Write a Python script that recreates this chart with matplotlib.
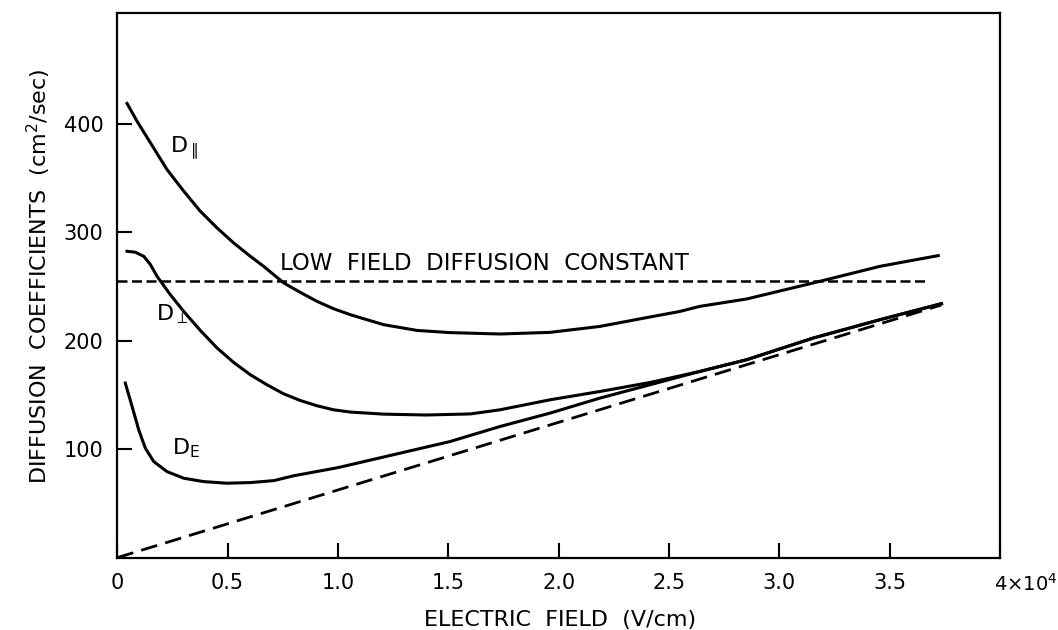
import numpy as np
import matplotlib
matplotlib.use('Agg')
import matplotlib.pyplot as plt
import matplotlib.transforms as mtransforms

# curves (field in units of 1e4 V/cm)
par_x = [0.044, 0.089, 0.15, 0.225, 0.301, 0.376, 0.452, 0.527, 0.603, 0.663,
         0.754, 0.829, 0.905, 0.98, 1.056, 1.131, 1.207, 1.358, 1.507, 1.734,
         1.96, 2.187, 2.414, 2.549, 2.64, 2.852, 3.154, 3.456, 3.72]
par_y = [418.8, 402.5, 382.5, 357.9, 337.9, 319.4, 304.0, 290.2, 277.8, 268.6,
         253.3, 244.6, 236.3, 229.5, 224.0, 219.4, 214.8, 209.5, 207.5, 206.2,
         207.7, 213.2, 221.9, 227.0, 231.7, 238.5, 253.3, 268.6, 278.5]

perp_x = [0.044, 0.082, 0.12, 0.15, 0.18, 0.24, 0.301, 0.376, 0.452, 0.527,
          0.603, 0.678, 0.754, 0.829, 0.905, 0.98, 1.056, 1.207, 1.4, 1.6,
          1.734, 1.96, 2.187, 2.414, 2.64, 2.852, 3.154, 3.456, 3.735]
perp_y = [282.5, 281.6, 277.8, 270.2, 259.4, 242.5, 227.0, 209.5, 193.3, 180.0,
          168.6, 159.4, 151.0, 144.9, 140.0, 136.3, 134.2, 132.3, 131.5, 132.5,
          136.3, 145.5, 153.2, 161.5, 171.7, 182.5, 202.5, 219.4, 234.2]

de_x = [0.036, 0.067, 0.097, 0.127, 0.165, 0.225, 0.301, 0.391, 0.497, 0.603,
        0.709, 0.8, 1.0, 1.281, 1.507, 1.734, 1.96, 2.187, 2.414, 2.64,
        2.852, 3.154, 3.456, 3.735]
de_y = [161.0, 139.3, 117.8, 100.9, 88.6, 79.3, 73.2, 70.1, 68.6, 69.2,
        71.0, 75.5, 83.0, 96.3, 107.0, 120.9, 133.2, 147.1, 159.4, 171.7,
        182.5, 202.5, 219.4, 234.2]

diag_x = [0.0, 3.735]
diag_y = [0.0, 233.0]

low_field = 255.0
low_field_end = 3.68

xticks = [0, 0.5, 1.0, 1.5, 2.0, 2.5, 3.0, 3.5, 4.0]
xlabels = ['0', '0.5', '1.0', '1.5', '2.0', '2.5', '3.0', '3.5', '4×10$^4$']
yticks = [100, 200, 300, 400]

plt.rcParams['font.family'] = ['DejaVu Sans']
plt.rcParams['mathtext.fontset'] = 'dejavusans'

fig = plt.figure(figsize=(10.58, 6.30), dpi=100)
ax = fig.add_axes([0.1109, 0.1149, 0.9452 - 0.1109, 0.979 - 0.1149])

ax.plot(par_x, par_y, color='black', lw=2.2, solid_joinstyle='round')
ax.plot(perp_x, perp_y, color='black', lw=2.2, solid_joinstyle='round')
ax.plot(de_x, de_y, color='black', lw=2.2, solid_joinstyle='round')
ax.plot(diag_x, diag_y, color='black', lw=2.0, dashes=(6, 3))
ax.plot([0, low_field_end], [low_field, low_field], color='black', lw=1.8, dashes=(4, 1.8))

ax.text(0.24, 373, 'D$_{\\parallel}$', fontsize=16, va='baseline', ha='left')
ax.text(0.175, 219, 'D$_{\\perp}$', fontsize=16, va='baseline', ha='left')
ax.text(0.248, 95, 'D$_{\\mathrm{E}}$', fontsize=16, va='baseline', ha='left')
ax.text(0.737, 265, 'LOW  FIELD  DIFFUSION  CONSTANT', fontsize=16.5, va='baseline', ha='left')

ax.set_xlim(0, 4)
ax.set_ylim(0, 502)
ax.set_xticks(xticks)
ax.set_xticklabels(xlabels)
ax.set_yticks(yticks)
ax.tick_params(direction='in', length=11, width=1.5, labelsize=15)
ax.tick_params(axis='x', pad=11)
ax.tick_params(axis='y', pad=10)
for s in ax.spines.values():
    s.set_linewidth(1.6)

last = ax.get_xticklabels()[-1]
last.set_ha('left')
last.set_fontsize(14)
last.set_transform(last.get_transform() + mtransforms.ScaledTranslation(-6 / 100, 0, fig.dpi_scale_trans))

fig.text(560 / 1058, 1 - 620 / 630, 'ELECTRIC  FIELD  (V/cm)', fontsize=16, ha='center', va='center')
fig.text(39 / 1058, 1 - 276 / 630, 'DIFFUSION  COEFFICIENTS  (cm$^2$/sec)', fontsize=16,
         ha='center', va='center', rotation=90)

plt.savefig('out.png', dpi=100)
plt.close('all')
